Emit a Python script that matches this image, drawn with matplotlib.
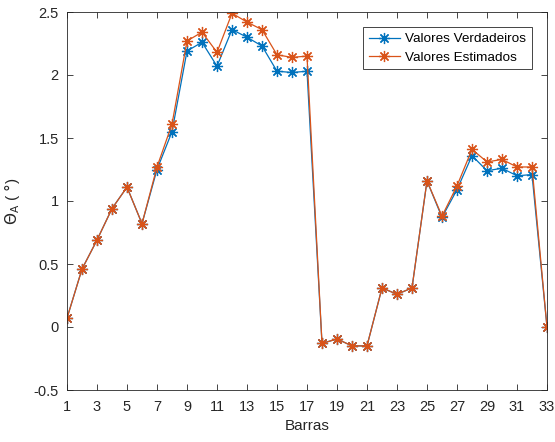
import numpy as np
import matplotlib
matplotlib.use('Agg')
import matplotlib.pyplot as plt

plt.rcParams['font.family'] = ['Liberation Sans', 'DejaVu Sans']

barras = list(range(1, 34))
verdadeiros = [0.07, 0.46, 0.69, 0.94, 1.11, 0.82, 1.25, 1.55, 2.19, 2.26,
               2.07, 2.36, 2.30, 2.23, 2.03, 2.02, 2.03, -0.13, -0.095, -0.15,
               -0.15, 0.31, 0.26, 0.31, 1.16, 0.87, 1.09, 1.36, 1.24, 1.26,
               1.20, 1.21, 0.0]
estimados = [0.07, 0.46, 0.69, 0.94, 1.11, 0.82, 1.27, 1.61, 2.27, 2.34,
             2.18, 2.49, 2.42, 2.36, 2.16, 2.14, 2.15, -0.13, -0.095, -0.15,
             -0.15, 0.31, 0.26, 0.31, 1.16, 0.88, 1.12, 1.41, 1.31, 1.33,
             1.27, 1.27, 0.0]
xticks = list(range(1, 34, 2))
yticks = [-0.5, 0, 0.5, 1, 1.5, 2, 2.5]
yticklabels = ['-0.5', '0', '0.5', '1', '1.5', '2', '2.5']

fig = plt.figure(figsize=(5.55, 4.42), dpi=100)
ax = fig.add_axes([67/555, 1 - 390/442, 480/555, 378/442])

ast = (8, 2, 0)
ax.plot(barras, verdadeiros, color='#0072BD', marker=ast, markersize=8,
        linewidth=0.9, markeredgewidth=0.9, label='Valores Verdadeiros')
ax.plot(barras, estimados, color='#D95319', marker=ast, markersize=8,
        linewidth=0.9, markeredgewidth=0.9, label='Valores Estimados')

ax.set_xlim(1, 33)
ax.set_ylim(-0.5, 2.5)
ax.set_xticks(xticks)
ax.set_yticks(yticks)
ax.set_yticklabels(yticklabels)
ax.tick_params(direction='in', top=True, right=True, labelsize=10.5,
               colors='#262626', length=4, width=0.6)
ax.tick_params(axis='x', pad=7)
ax.tick_params(axis='y', pad=6)
for s in ax.spines.values():
    s.set_color('#262626')
    s.set_linewidth(0.6)

ax.set_xlabel('Barras', fontsize=11, color='#262626', labelpad=4)
ax.set_ylabel(r'$\Theta_\mathrm{A}$ ( $\degree$)', fontsize=11,
              color='#262626', labelpad=8)

leg = ax.legend(loc='upper right', fontsize=9.7, fancybox=False,
                edgecolor='#262626', framealpha=1, borderaxespad=1.15,
                handlelength=2.3, handletextpad=0.4, borderpad=0.4,
                labelspacing=0.45)
leg.get_frame().set_linewidth(0.6)

fig.savefig('out.png', dpi=100)
